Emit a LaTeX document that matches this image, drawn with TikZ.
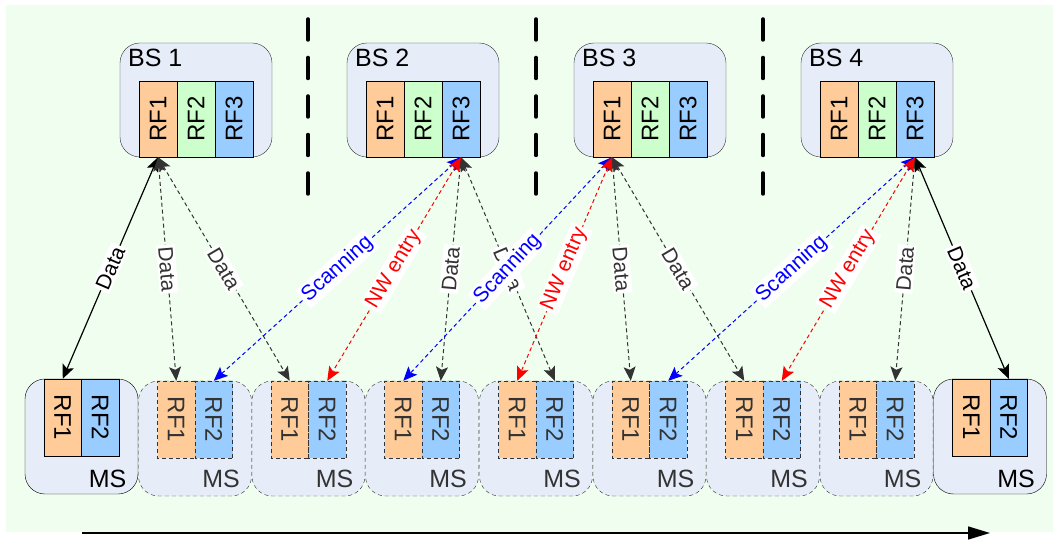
\documentclass[tikz,border=0pt]{standalone}
\usepackage{fontspec}
\setmainfont{Liberation Sans}
\usetikzlibrary{arrows.meta}
\definecolor{bggreen}{RGB}{240,254,240}
\definecolor{boxblue}{RGB}{230,236,248}
\definecolor{rfone}{RGB}{255,204,153}
\definecolor{rftwo}{RGB}{204,255,204}
\definecolor{rfthree}{RGB}{153,204,255}
\definecolor{msgray}{RGB}{51,51,51}
\begin{document}
\begin{tikzpicture}[x=1pt,y=-1pt,
    bsbox/.style={draw=msgray,fill=boxblue,rounded corners=20pt,minimum width=152pt,minimum height=114pt,inner sep=0pt},
    bsrf/.style={draw=black,rotate=90,minimum width=76pt,minimum height=38pt,inner sep=0pt,font=\fontsize{24}{24}\selectfont},
    msbox/.style={draw=black,fill=boxblue,rounded corners=20pt,minimum width=113pt,minimum height=115pt,inner sep=0pt},
    msghost/.style={msbox,draw=msgray,dash pattern=on 4pt off 3pt},
    msrf/.style={draw=black,rotate=-90,minimum width=77pt,minimum height=37.5pt,inner sep=0pt,font=\fontsize{24}{24}\selectfont},
    msrfghost/.style={msrf,draw=msgray,text=msgray,dash pattern=on 4pt off 3pt},
    bstitle/.style={anchor=base west,inner sep=0pt,font=\fontsize{25}{25}\selectfont},
    mstitle/.style={anchor=base east,inner sep=0pt,font=\fontsize{25}{25}\selectfont},
    link/.style={{Stealth[length=14pt,width=12pt,inset=3pt]}-{Stealth[length=14pt,width=12pt,inset=3pt]},line width=1pt},
    datalink/.style={link,black,line width=1.2pt},
    ghostlink/.style={link,msgray,dash pattern=on 4pt off 3pt},
    scanlink/.style={link,blue,dash pattern=on 4pt off 3pt},
    entrylink/.style={link,red,dash pattern=on 4pt off 3pt},
    tag/.style={midway,sloped,fill=white,inner sep=2pt,font=\fontsize{21}{21}\selectfont},
    divider/.style={line width=3.5pt,line cap=round,dash pattern=on 21pt off 17.5pt}]

    \useasboundingbox (0,0) rectangle (1053,540);
    \fill[bggreen] (6,5) rectangle (1053,532);

    \draw[divider] (308,19) -- (308,194);
    \draw[divider] (536,19) -- (536,194);
    \draw[divider] (763,19) -- (763,194);

    \node[bsbox] (bs1) at (196,100) {};
    \node[bstitle] (bs1t) at (128,67) {BS 1};
    \node[bsrf,fill=rfone] (b1r1) at (158,119) {RF1};
    \node[bsrf,fill=rftwo] (b1r2) at (196,119) {RF2};
    \node[bsrf,fill=rfthree] (b1r3) at (234,119) {RF3};

    \node[bsbox] (bs2) at (423,100) {};
    \node[bstitle] (bs2t) at (355,67) {BS 2};
    \node[bsrf,fill=rfone] (b2r1) at (385,119) {RF1};
    \node[bsrf,fill=rftwo] (b2r2) at (423,119) {RF2};
    \node[bsrf,fill=rfthree] (b2r3) at (461,119) {RF3};

    \node[bsbox] (bs3) at (650,100) {};
    \node[bstitle] (bs3t) at (582,67) {BS 3};
    \node[bsrf,fill=rfone] (b3r1) at (612,119) {RF1};
    \node[bsrf,fill=rftwo] (b3r2) at (650,119) {RF2};
    \node[bsrf,fill=rfthree] (b3r3) at (688,119) {RF3};

    \node[bsbox] (bs4) at (877,100) {};
    \node[bstitle] (bs4t) at (809,67) {BS 4};
    \node[bsrf,fill=rfone] (b4r1) at (839,119) {RF1};
    \node[bsrf,fill=rftwo] (b4r2) at (877,119) {RF2};
    \node[bsrf,fill=rfthree] (b4r3) at (915,119) {RF3};

    \node[msbox] (ms1) at (81.5,436.5) {};
    \node[msrf,fill=rfone] (m1r1) at (62.75,417.5) {RF1};
    \node[msrf,fill=rfthree] (m1r2) at (100.25,417.5) {RF2};
    \node[mstitle] (ms1t) at (126.5,487) {MS};

    \node[msghost] (ms2) at (195,438.5) {};
    \node[msrfghost,fill=rfone] (m2r1) at (176.25,419.5) {RF1};
    \node[msrfghost,fill=rfthree] (m2r2) at (213.75,419.5) {RF2};
    \node[mstitle,text=msgray] (ms2t) at (240,487) {MS};

    \node[msghost] (ms3) at (308.5,438.5) {};
    \node[msrfghost,fill=rfone] (m3r1) at (289.75,419.5) {RF1};
    \node[msrfghost,fill=rfthree] (m3r2) at (327.25,419.5) {RF2};
    \node[mstitle,text=msgray] (ms3t) at (353.5,487) {MS};

    \node[msghost] (ms4) at (422,438.5) {};
    \node[msrfghost,fill=rfone] (m4r1) at (403.25,419.5) {RF1};
    \node[msrfghost,fill=rfthree] (m4r2) at (440.75,419.5) {RF2};
    \node[mstitle,text=msgray] (ms4t) at (467,487) {MS};

    \node[msghost] (ms5) at (536,438.5) {};
    \node[msrfghost,fill=rfone] (m5r1) at (517.25,419.5) {RF1};
    \node[msrfghost,fill=rfthree] (m5r2) at (554.75,419.5) {RF2};
    \node[mstitle,text=msgray] (ms5t) at (581,487) {MS};

    \node[msghost] (ms6) at (649.5,438.5) {};
    \node[msrfghost,fill=rfone] (m6r1) at (630.75,419.5) {RF1};
    \node[msrfghost,fill=rfthree] (m6r2) at (668.25,419.5) {RF2};
    \node[mstitle,text=msgray] (ms6t) at (694.5,487) {MS};

    \node[msghost] (ms7) at (763,438.5) {};
    \node[msrfghost,fill=rfone] (m7r1) at (744.25,419.5) {RF1};
    \node[msrfghost,fill=rfthree] (m7r2) at (781.75,419.5) {RF2};
    \node[mstitle,text=msgray] (ms7t) at (808,487) {MS};

    \node[msghost] (ms8) at (876.5,438.5) {};
    \node[msrfghost,fill=rfone] (m8r1) at (857.75,419.5) {RF1};
    \node[msrfghost,fill=rfthree] (m8r2) at (895.25,419.5) {RF2};
    \node[mstitle,text=msgray] (ms8t) at (921.5,487) {MS};

    \node[msbox] (ms9) at (990,436.5) {};
    \node[msrf,fill=rfone] (m9r1) at (971.25,417.5) {RF1};
    \node[msrf,fill=rfthree] (m9r2) at (1008.75,417.5) {RF2};
    \node[mstitle] (ms9t) at (1035,487) {MS};

    \draw[datalink] (b1r1.west) -- node[tag] {Data} (m1r1.west);
    \draw[ghostlink] (b1r1.west) -- node[tag] {Data} (m2r1.west);
    \draw[ghostlink] (b1r1.west) -- node[tag] {Data} (m3r1.west);

    \draw[ghostlink] (b2r3.west) -- node[tag] {Data} (m4r2.west);
    \draw[ghostlink] (b2r3.west) -- node[tag] {Data} (m5r2.west);
    \draw[scanlink] (b2r3.west) -- node[tag] {Scanning} (m2r2.west);
    \draw[entrylink] (b2r3.west) -- node[tag] {NW entry} (m3r2.west);

    \draw[ghostlink] (b3r1.west) -- node[tag] {Data} (m6r1.west);
    \draw[ghostlink] (b3r1.west) -- node[tag] {Data} (m7r1.west);
    \draw[scanlink] (b3r1.west) -- node[tag] {Scanning} (m4r1.west);
    \draw[entrylink] (b3r1.west) -- node[tag] {NW entry} (m5r1.west);

    \draw[ghostlink] (b4r3.west) -- node[tag] {Data} (m8r2.west);
    \draw[datalink] (b4r3.west) -- node[tag] {Data} (m9r2.west);
    \draw[scanlink] (b4r3.west) -- node[tag] {Scanning} (m6r2.west);
    \draw[entrylink] (b4r3.west) -- node[tag] {NW entry} (m7r2.west);

    \coordinate (tstart) at (82,533);
    \coordinate (tend) at (990,533);
    \draw[line width=1.5pt,-{Triangle[length=22pt,width=13pt]}] (tstart) -- (tend);
\end{tikzpicture}
\end{document}
